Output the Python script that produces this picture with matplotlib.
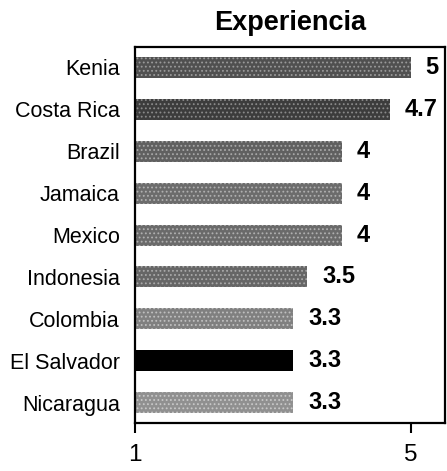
import matplotlib
matplotlib.use("Agg")
import matplotlib.pyplot as plt
import numpy as np

countries = ["Kenia", "Costa Rica", "Brazil", "Jamaica", "Mexico",
             "Indonesia", "Colombia", "El Salvador", "Nicaragua"]
values = [5, 4.7, 4, 4, 4, 3.5, 3.3, 3.3, 3.3]
labels = ["5", "4.7", "4", "4", "4", "3.5", "3.3", "3.3", "3.3"]
colors = ["#505050", "#3c3c3c", "#606060", "#6c6c6c", "#6a6a6a",
          "#666666", "#808080", "#000000", "#909090"]
hatch_colors = ["#9a9a9a", "#8a8a8a", "#a8a8a8", "#b0b0b0", "#b0b0b0",
                "#aaaaaa", "#c0c0c0", "#000000", "#c8c8c8"]

plt.rcParams['font.family'] = ['Liberation Sans', 'DejaVu Sans']
plt.rcParams['hatch.linewidth'] = 0.8

fig = plt.figure(figsize=(4.47, 4.71), dpi=100)
ax = fig.add_axes([0.302, 0.102, 0.6935, 0.798])

y = np.arange(len(countries))
base = 1
bars = ax.barh(y, [v - base for v in values], left=base, height=0.5,
               color=colors, edgecolor=hatch_colors, linewidth=0)
for b in bars:
    b.set_hatch("....")
for yi, v, lab in zip(y, values, labels):
    ax.text(v + 0.22, yi, lab, va="center", ha="left",
            fontsize=17, fontweight="bold")

ax.set_xlim(1, 5.5)
ax.set_ylim(len(countries) - 0.52, -0.48)
ax.set_yticks(y)
ax.set_yticklabels(countries, fontsize=15.5)
ax.tick_params(axis="y", length=0, pad=11)
ax.set_xticks([1, 5])
ax.set_xticklabels(["1", "5"], fontsize=17.5)
ax.tick_params(axis="x", length=7, width=1.5, pad=8)
for s in ax.spines.values():
    s.set_linewidth(1.6)
ax.set_title("Experiencia", fontsize=19.5, fontweight="bold", pad=12)

fig.savefig("out.png", dpi=100)
